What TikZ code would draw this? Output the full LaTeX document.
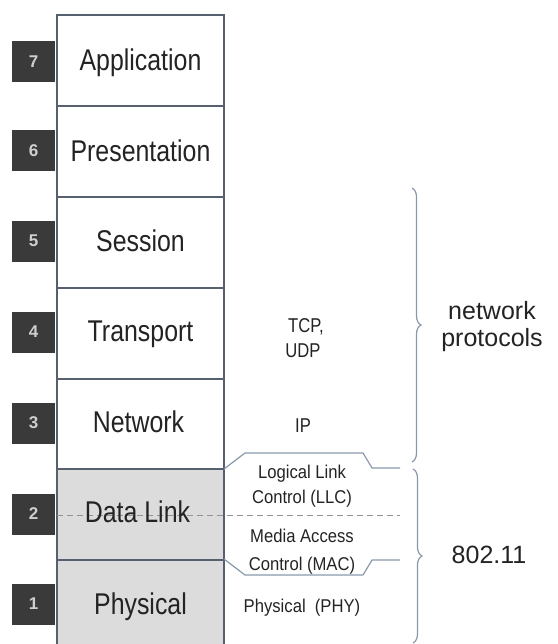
\documentclass[tikz,border=0pt]{standalone}
\usepackage{fontspec}
\setmainfont{Liberation Sans}
\newfontfamily\narrowsans[FakeStretch=0.83]{Liberation Sans}
\newfontfamily\smallsans[FakeStretch=0.9]{Liberation Sans}
\usetikzlibrary{decorations.pathreplacing}
\definecolor{edgegray}{HTML}{56606E}
\definecolor{bracegray}{HTML}{8A98AC}
\definecolor{layershade}{HTML}{DCDCDC}
\definecolor{numfill}{HTML}{3A3A3A}
\definecolor{numtext}{HTML}{CFCFCF}
\definecolor{ink}{HTML}{232323}
\tikzset{
  layerbox/.style={draw=edgegray, line width=1.3pt},
  layerlabel/.style={anchor=base, inner sep=0pt, text=ink, font=\fontsize{30}{32}\narrowsans},
  numbox/.style={fill=numfill, minimum width=43pt, minimum height=41pt, inner sep=0pt,
                 text=numtext, font=\fontsize{17}{18}\selectfont\bfseries},
  protolabel/.style={anchor=base, inner sep=0pt, text=ink, font=\fontsize{20}{22}\narrowsans},
  sublabel/.style={anchor=base, inner sep=0pt, text=ink, font=\fontsize{18.5}{20}\smallsans},
  grouplabel/.style={anchor=base, inner sep=0pt, text=ink, font=\fontsize{25}{27}\selectfont},
  callout/.style={draw=bracegray, line width=1.2pt, line join=round},
  groupbrace/.style={draw=bracegray, line width=1.2pt,
                     decorate, decoration={brace, amplitude=9pt}},
}
\begin{document}
\begin{tikzpicture}[x=1pt, y=-1pt]
  \useasboundingbox (0,0) rectangle (557,644);

  % shaded lower layers (data link and physical)
  \fill[layershade] (57,469) rectangle (224,651);

  % the seven layer boxes
  \draw[layerbox] (57,15) rectangle (224,106);
  \draw[layerbox] (57,106) rectangle (224,197);
  \draw[layerbox] (57,197) rectangle (224,288);
  \draw[layerbox] (57,288) rectangle (224,379);
  \draw[layerbox] (57,379) rectangle (224,469);
  \draw[layerbox] (57,469) rectangle (224,560);
  \draw[layerbox] (57,560) rectangle (224,651);

  % LLC / MAC split inside the data link layer
  \coordinate (dashL) at (57,515);
  \coordinate (dashR) at (400,515);
  \draw[gray!85, line width=0.9pt, dash pattern=on 6pt off 4pt] (dashL) -- (dashR);

  % layer numbers
  \node[numbox] (n7) at (33.5,62) {7};
  \node[numbox] (n6) at (33.5,151) {6};
  \node[numbox] (n5) at (33.5,241) {5};
  \node[numbox] (n4) at (33.5,332) {4};
  \node[numbox] (n3) at (33.5,423) {3};
  \node[numbox] (n2) at (33.5,514) {2};
  \node[numbox] (n1) at (33.5,604) {1};

  % layer names
  \node[layerlabel] (app)  at (140.5,71)  {Application};
  \node[layerlabel] (pres) at (140.5,162) {Presentation};
  \node[layerlabel] (sess) at (140.5,251) {Session};
  \node[layerlabel] (trans) at (140.5,341) {Transport};
  \node[layerlabel] (net)  at (138.5,432) {Network};
  \node[layerlabel] (dl)   at (137.5,522) {Data Link};
  \node[layerlabel] (phy)  at (140.5,614) {Physical};

  % protocols beside the layers
  \node[protolabel] (tcp) at (306,332) {TCP,};
  \node[protolabel] (udp) at (303,357) {UDP};
  \node[protolabel] (ip)  at (303,432) {IP};

  % LLC and MAC sublayer outline
  \coordinate (llcA) at (224,469);
  \coordinate (llcB) at (245,453);
  \coordinate (llcC) at (363,453);
  \coordinate (llcD) at (372,468);
  \coordinate (llcE) at (400,468);
  \draw[callout] (llcA) -- (llcB) -- (llcC) -- (llcD) -- (llcE);
  \coordinate (macA) at (224,559);
  \coordinate (macB) at (245,575);
  \coordinate (macC) at (363,575);
  \coordinate (macD) at (372,560);
  \coordinate (macE) at (400,560);
  \draw[callout] (macA) -- (macB) -- (macC) -- (macD) -- (macE);

  \node[sublabel] (llc1) at (302,478) {Logical Link};
  \node[sublabel] (llc2) at (302,503) {Control (LLC)};
  \node[sublabel] (mac1) at (302,542) {Media Access};
  \node[sublabel] (mac2) at (302,570) {Control (MAC)};
  \node[sublabel] (phy2) at (302,612) {Physical\ \ (PHY)};

  % braces grouping the layers
  \coordinate (b1top) at (412,188);
  \coordinate (b1bot) at (412,462);
  \draw[groupbrace] (b1top) -- (b1bot);
  \coordinate (b2top) at (413,469);
  \coordinate (b2bot) at (413,643);
  \draw[groupbrace] (b2top) -- (b2bot);

  \node[grouplabel] (np1) at (492,319) {network};
  \node[grouplabel] (np2) at (492,346) {protocols};
  \node[grouplabel] (wifi) at (489,563) {802.11};
\end{tikzpicture}
\end{document}
